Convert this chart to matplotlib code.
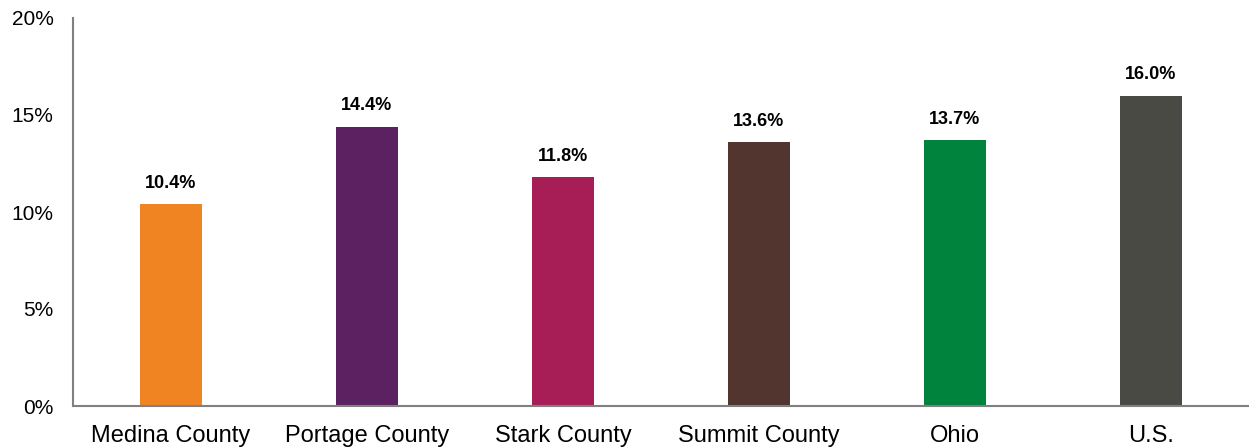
import matplotlib
matplotlib.use("Agg")
import matplotlib.pyplot as plt
from matplotlib.ticker import FuncFormatter

plt.rcParams["font.family"] = ["Liberation Sans", "DejaVu Sans"]

categories = ["Medina County", "Portage County", "Stark County", "Summit County", "Ohio", "U.S."]
values = [10.4, 14.4, 11.8, 13.6, 13.7, 16.0]
colors = ["#F08422", "#5C2161", "#A61E55", "#52352E", "#00843D", "#4A4A45"]

fig = plt.figure(figsize=(12.49, 4.48), dpi=100)
ax = fig.add_axes([73 / 1249, 42 / 448, 1176 / 1249, 388 / 448])

x = list(range(len(categories)))
bars = ax.bar(x, values, width=0.316, color=colors)

for bar, v in zip(bars, values):
    ax.annotate(f"{v:.1f}%", (bar.get_x() + bar.get_width() / 2, v),
                xytext=(0, 9), textcoords="offset points",
                ha="center", va="bottom", fontsize=13, fontweight="bold", color="black")

ax.set_xlim(-0.5, 5.5)
ax.set_ylim(0, 20)
ax.set_yticks([0, 5, 10, 15, 20])
ax.yaxis.set_major_formatter(FuncFormatter(lambda v, _: f"{v:.0f}%"))
ax.set_xticks(x)
ax.set_xticklabels(categories)

for s in ["top", "right"]:
    ax.spines[s].set_visible(False)
for s in ["left", "bottom"]:
    ax.spines[s].set_color("#808080")
    ax.spines[s].set_linewidth(1.5)

ax.tick_params(axis="y", length=0, pad=14, labelsize=15)
ax.tick_params(axis="x", length=0, pad=13.5, labelsize=17)

fig.savefig("out.png", dpi=100)
